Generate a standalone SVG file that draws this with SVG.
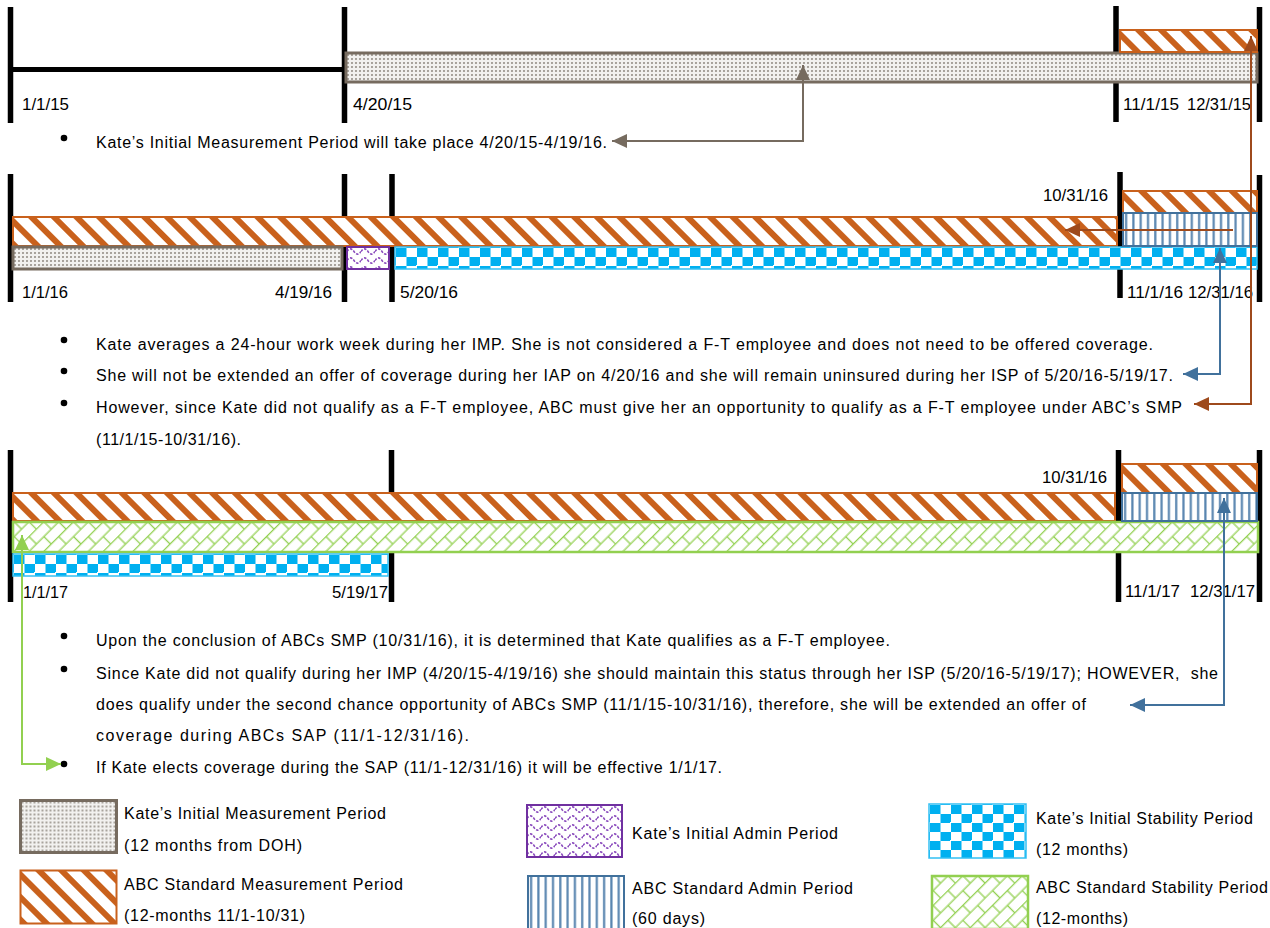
<svg xmlns="http://www.w3.org/2000/svg" width="1270" height="928" viewBox="0 0 1270 928">
<style>
text{font-family:"Liberation Sans",Arial,sans-serif;font-size:16px;fill:#000}
.vb{stroke:#000;stroke-width:5.5;fill:none}
.gray{fill:url(#pDots);stroke:#766b5f;stroke-width:3}
.org{fill:url(#pOrange);stroke:#c9611c;stroke-width:2}
.pur{fill:url(#pWave);stroke:#7030a0;stroke-width:2}
.chk{fill:url(#pCheck);stroke:#33c0f3;stroke-width:1.5}
.adm{fill:url(#pAdmin);stroke:#41719c;stroke-width:2}
.grn{fill:url(#pGreen);stroke:#92d050;stroke-width:2.5}
.bul{fill:#000}
.c-gray{stroke:#766b5f;stroke-width:2;fill:none}
.c-org{stroke:#9e4a1c;stroke-width:2;fill:none}
.c-blu{stroke:#41719c;stroke-width:2;fill:none}
.c-grn{stroke:#92d050;stroke-width:2;fill:none}
</style>
<defs>
<pattern id="pDots" width="4" height="4" patternUnits="userSpaceOnUse"><rect width="4" height="4" fill="#f2f1ef"/><circle cx="2" cy="2" r="1.05" fill="#958f87"/></pattern>
<pattern id="pOrange" width="16" height="16" patternUnits="userSpaceOnUse" patternTransform="rotate(45)"><rect width="16" height="16" fill="#fff"/><rect width="16" height="6" fill="#c9611c"/></pattern>
<pattern id="pWave" width="14" height="9" patternUnits="userSpaceOnUse"><rect width="14" height="9" fill="#fff"/><path d="M0,4.5 C2.3,1 4.7,1 7,4.5 C9.3,8 11.7,8 14,4.5" fill="none" stroke="#8a4bbd" stroke-width="1.5" stroke-dasharray="2.5 1.5"/></pattern>
<pattern id="pCheck" width="21" height="18" patternUnits="userSpaceOnUse"><rect width="21" height="18" fill="#fff"/><rect x="1" y="1" width="10.5" height="9" fill="#00b0f0"/><rect x="11.5" y="10" width="10.5" height="9" fill="#00b0f0"/><rect x="-9.5" y="10" width="10.5" height="9" fill="#00b0f0"/><rect x="11.5" y="-8" width="10.5" height="9" fill="#00b0f0"/></pattern>
<pattern id="pAdmin" width="7.3" height="10" patternUnits="userSpaceOnUse"><rect width="7.3" height="10" fill="#fff"/><rect x="2" width="2.2" height="10" fill="#5a86b0"/></pattern>
<pattern id="pGreen" width="21" height="21" patternUnits="userSpaceOnUse" patternTransform="rotate(-45)"><rect width="21" height="21" fill="#fff"/><path d="M0,0.6H21M0,11.1H21M1,0V10.5M11.5,10.5V21" stroke="#92d050" stroke-width="1.3" fill="none"/></pattern>
<marker id="mGray" viewBox="0 0 15 14" refX="15" refY="7" markerWidth="15" markerHeight="14" markerUnits="userSpaceOnUse" orient="auto-start-reverse"><path d="M0,0 L15,7 L0,14 z" fill="#766b5f"/></marker>
<marker id="mOrg" viewBox="0 0 15 14" refX="15" refY="7" markerWidth="15" markerHeight="14" markerUnits="userSpaceOnUse" orient="auto-start-reverse"><path d="M0,0 L15,7 L0,14 z" fill="#9e4a1c"/></marker>
<marker id="mBlu" viewBox="0 0 15 14" refX="15" refY="7" markerWidth="15" markerHeight="14" markerUnits="userSpaceOnUse" orient="auto-start-reverse"><path d="M0,0 L15,7 L0,14 z" fill="#41719c"/></marker>
<marker id="mGrn" viewBox="0 0 15 14" refX="15" refY="7" markerWidth="15" markerHeight="14" markerUnits="userSpaceOnUse" orient="auto-start-reverse"><path d="M0,0 L15,7 L0,14 z" fill="#92d050"/></marker>
</defs>
<rect width="1270" height="928" fill="#fff"/>

<g id="timeline1">
<path class="vb" d="M10.5,7V123M344.5,7V123M1116,6V122M1259.5,7V122"/>
<path d="M13,69.5H342" stroke="#000" stroke-width="5"/>
<g transform="translate(346,53)"><rect class="gray" width="911" height="29"/></g>
<g transform="translate(1120,30)"><rect class="org" width="137" height="22"/></g>
<text x="22" y="110" textLength="47" lengthAdjust="spacingAndGlyphs">1/1/15</text>
<text x="353" y="110" textLength="59" lengthAdjust="spacingAndGlyphs">4/20/15</text>
<text x="1123" y="110" textLength="56" lengthAdjust="spacingAndGlyphs">11/1/15</text>
<text x="1187" y="110" textLength="64" lengthAdjust="spacingAndGlyphs">12/31/15</text>
</g>

<g id="note1">
<circle class="bul" cx="64" cy="138" r="3.3"/>
<text x="96" y="148" textLength="511" lengthAdjust="spacing">Kate’s Initial Measurement Period will take place 4/20/15-4/19/16.</text>
</g>

<g id="timeline2">
<path class="vb" d="M10.5,174V302M344.5,174V302M392,174V302M1120,172V298M1259.5,175V302"/>
<g transform="translate(13,217)"><rect class="org" width="1104" height="29"/></g>
<g transform="translate(13,247)"><rect class="gray" width="329" height="22" stroke-width="2.5"/></g>
<g transform="translate(347,247)"><rect class="pur" width="42" height="22"/></g>
<g transform="translate(395,247)"><rect class="chk" width="862" height="22"/></g>
<g transform="translate(1123,191)"><rect class="org" width="134" height="22"/></g>
<g transform="translate(1123,213)"><rect class="adm" width="134" height="33"/></g>
<text x="22" y="298" textLength="46" lengthAdjust="spacingAndGlyphs">1/1/16</text>
<text x="275" y="298" textLength="57" lengthAdjust="spacingAndGlyphs">4/19/16</text>
<text x="400" y="298" textLength="58" lengthAdjust="spacingAndGlyphs">5/20/16</text>
<text x="1043" y="201" textLength="65" lengthAdjust="spacingAndGlyphs">10/31/16</text>
<text x="1127" y="298" textLength="56" lengthAdjust="spacingAndGlyphs">11/1/16</text>
<text x="1188" y="298" textLength="65" lengthAdjust="spacingAndGlyphs">12/31/16</text>
</g>

<g id="note2">
<circle class="bul" cx="64" cy="340" r="3.3"/>
<circle class="bul" cx="64" cy="371" r="3.3"/>
<circle class="bul" cx="64" cy="403" r="3.3"/>
<text x="96" y="350" textLength="1057" lengthAdjust="spacing">Kate averages a 24-hour work week during her IMP. She is not considered a F-T employee and does not need to be offered coverage.</text>
<text x="96" y="381" textLength="1077" lengthAdjust="spacing">She will not be extended an offer of coverage during her IAP on 4/20/16 and she will remain uninsured during her ISP of 5/20/16-5/19/17.</text>
<text x="96" y="413" textLength="1086" lengthAdjust="spacing">However, since Kate did not qualify as a F-T employee, ABC must give her an opportunity to qualify as a F-T employee under ABC’s SMP</text>
<text x="96" y="445" textLength="145" lengthAdjust="spacing">(11/1/15-10/31/16).</text>
</g>

<g id="timeline3">
<path class="vb" d="M10.5,450V602M391.5,450V602M1118.5,450V602M1259.5,450V602"/>
<g transform="translate(13,493)"><rect class="org" width="1102" height="28"/></g>
<g transform="translate(13,522)"><rect class="grn" width="1245" height="30"/></g>
<g transform="translate(13,554)"><rect class="chk" width="375" height="22"/></g>
<g transform="translate(1122,464)"><rect class="org" width="135" height="29"/></g>
<g transform="translate(1122,493)"><rect class="adm" width="135" height="28"/></g>
<text x="23" y="598" textLength="45" lengthAdjust="spacingAndGlyphs">1/1/17</text>
<text x="332" y="598" textLength="56" lengthAdjust="spacingAndGlyphs">5/19/17</text>
<text x="1042" y="483" textLength="65" lengthAdjust="spacingAndGlyphs">10/31/16</text>
<text x="1125" y="597" textLength="55" lengthAdjust="spacingAndGlyphs">11/1/17</text>
<text x="1190" y="597" textLength="65" lengthAdjust="spacingAndGlyphs">12/31/17</text>
</g>

<g id="note3">
<circle class="bul" cx="64" cy="636" r="3.3"/>
<circle class="bul" cx="64" cy="669" r="3.3"/>
<circle class="bul" cx="64" cy="764" r="3.3"/>
<text x="96" y="646" textLength="794" lengthAdjust="spacing">Upon the conclusion of ABCs SMP (10/31/16), it is determined that Kate qualifies as a F-T employee.</text>
<text x="96" y="679" textLength="1122" lengthAdjust="spacing" xml:space="preserve">Since Kate did not qualify during her IMP (4/20/15-4/19/16) she should maintain this status through her ISP (5/20/16-5/19/17); HOWEVER,  she</text>
<text x="96" y="710" textLength="990" lengthAdjust="spacing">does qualify under the second chance opportunity of ABCs SMP (11/1/15-10/31/16), therefore, she will be extended an offer of</text>
<text x="96" y="741" textLength="373" lengthAdjust="spacing">coverage during ABCs SAP (11/1-12/31/16).</text>
<text x="96" y="773" textLength="626" lengthAdjust="spacing">If Kate elects coverage during the SAP (11/1-12/31/16) it will be effective 1/1/17.</text>
</g>

<g id="legend-imp">
<g transform="translate(20.5,800.5)"><rect class="gray" width="96" height="52"/></g>
<text x="124" y="819" textLength="262" lengthAdjust="spacing">Kate’s Initial Measurement Period</text>
<text x="124" y="851" textLength="178" lengthAdjust="spacing">(12 months from DOH)</text>
</g>
<g id="legend-smp">
<g transform="translate(20.5,870.5)"><rect class="org" width="96" height="53" stroke-width="2.5"/></g>
<text x="124" y="890" textLength="279" lengthAdjust="spacing">ABC Standard Measurement Period</text>
<text x="124" y="921" textLength="181" lengthAdjust="spacing">(12-months 11/1-10/31)</text>
</g>
<g id="legend-iap">
<g transform="translate(527,805)"><rect class="pur" width="95" height="52"/></g>
<text x="632" y="839" textLength="206" lengthAdjust="spacing">Kate’s Initial Admin Period</text>
</g>
<g id="legend-sap">
<g transform="translate(528,876)"><rect class="adm" width="96" height="53" stroke-width="2.5"/></g>
<text x="632" y="894" textLength="221" lengthAdjust="spacing">ABC Standard Admin Period</text>
<text x="632" y="924" textLength="73" lengthAdjust="spacing">(60 days)</text>
</g>
<g id="legend-isp">
<g transform="translate(929,804)"><rect class="chk" width="97" height="54"/></g>
<text x="1036" y="824" textLength="217" lengthAdjust="spacing">Kate’s Initial Stability Period</text>
<text x="1036" y="855" textLength="92" lengthAdjust="spacing">(12 months)</text>
</g>
<g id="legend-ssp">
<g transform="translate(932,876)"><rect class="grn" width="96" height="53"/></g>
<text x="1036" y="893" textLength="232" lengthAdjust="spacing">ABC Standard Stability Period</text>
<text x="1036" y="924" textLength="92" lengthAdjust="spacing">(12-months)</text>
</g>

<g id="connectors">
<path class="c-gray" d="M803,65V141H612" marker-start="url(#mGray)" marker-end="url(#mGray)"/>
<path class="c-org" d="M1251,36V404H1194" marker-start="url(#mOrg)" marker-end="url(#mOrg)"/>
<path class="c-org" d="M1233,230H1065" marker-end="url(#mOrg)"/>
<path class="c-blu" d="M1220,248V374H1183" marker-start="url(#mBlu)" marker-end="url(#mBlu)"/>
<path class="c-blu" d="M1224,498V705H1130" marker-start="url(#mBlu)" marker-end="url(#mBlu)"/>
<path class="c-grn" d="M22,535V764H61" marker-start="url(#mGrn)" marker-end="url(#mGrn)"/>
</g>
</svg>
